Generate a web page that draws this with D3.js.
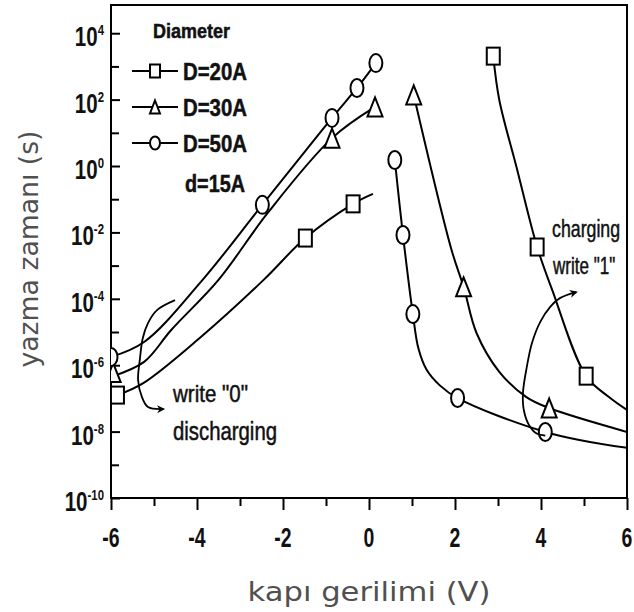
<!DOCTYPE html>
<html><head><meta charset="utf-8">
<script src="https://cdn.jsdelivr.net/npm/d3@7"></script>
<style>body{margin:0;background:#fff}</style>
</head><body>
<svg id="c" width="634" height="612"></svg>
<script>
// ---------- data (voltage V, log10 of write time in s) ----------
const xMajor = [-6, -4, -2, 0, 2, 4, 6];
const xMinor = [-5, -3, -1, 1, 3, 5];
const yMajorExp = [-10, -8, -6, -4, -2, 0, 2, 4];
const yMinorExp = [-9, -7, -5, -3, -1, 1, 3];
const seriesNames = ["D=20A", "D=30A", "D=50A"];
const seriesShapes = ["square", "triangle", "circle"];

// curves, write "0" (discharging) branch
const d20Discharge = [[-5.85,-6.90],[-5.25,-6.54],[-3.91,-5.15],[-2.45,-3.43],[-1.48,-2.17],[-0.37,-1.14],[0.09,-0.84]];
const d30Discharge = [[-6.0,-6.35],[-5.23,-5.90],[-4.60,-4.94],[-3.50,-3.43],[-2.36,-1.42],[-0.86,0.84],[0.14,1.78]];
const d50Discharge = [[-6.0,-5.75],[-5.23,-5.30],[-3.91,-3.49],[-2.48,-1.17],[-0.86,1.45],[-0.28,2.35],[0.16,3.10]];
// curves, write "1" (charging) branch
const d20Charge = [[2.89,3.31],[3.03,1.99],[3.43,-0.03],[3.91,-2.44],[4.26,-3.73],[5.05,-6.33],[5.58,-6.96],[6.0,-7.35]];
const d30Charge = [[1.04,2.14],[1.92,-2.53],[2.20,-3.64],[2.50,-5.03],[3.03,-6.20],[3.66,-6.96],[4.19,-7.29],[6.0,-8.01]];
const d50Charge = [[0.60,0.18],[0.79,-2.08],[1.02,-4.46],[1.15,-5.50],[1.34,-6.14],[1.64,-6.60],[2.06,-6.99],[4.10,-8.01],[6.0,-8.49]];

// markers
const d20Markers = [[-5.85,-6.90],[-1.48,-2.17],[-0.37,-1.14],[2.89,3.31],[3.91,-2.44],[5.05,-6.33]];
const d30Markers = [[-5.95,-6.22],[-0.86,0.84],[0.14,1.78],[1.04,2.14],[2.20,-3.64],[4.19,-7.29]];
const d50Markers = [[-6.0,-5.75],[-2.48,-1.17],[-0.86,1.45],[-0.28,2.35],[0.16,3.10],[0.60,0.18],[0.79,-2.08],[1.02,-4.46],[2.06,-6.99],[4.10,-8.01]];

// annotation arrows
const arrowWrite0 = [[-4.51,-4.04],[-4.93,-4.34],[-5.14,-4.73],[-5.26,-5.18],[-5.33,-5.84],[-5.37,-6.45],[-5.28,-6.96],[-5.14,-7.26],[-4.78,-7.32]];
const arrowWrite1 = [[4.10,-8.12],[3.90,-8.06],[3.72,-7.80],[3.60,-7.35],[3.58,-6.84],[3.67,-6.05],[3.79,-5.33],[3.98,-4.70],[4.21,-4.25],[4.44,-3.98],[4.82,-3.80]];

// ---------- drawing ----------
const svg = d3.select("#c");
const L = 111, R = 627, T = 5, B = 498;
const x = d3.scaleLinear().domain([-6, 6]).range([L, R]);
const y = d3.scaleLog().domain([1e-10, Math.pow(10, 4.85)]).range([B, T]);
const P = d => [x(d[0]), y(Math.pow(10, d[1]))];

const defs = svg.append("defs");
defs.append("clipPath").attr("id", "clip").append("rect")
  .attr("x", L).attr("y", T).attr("width", R - L).attr("height", B - T);
defs.append("marker").attr("id", "ah").attr("viewBox", "0 0 10 10")
  .attr("refX", 8).attr("refY", 5).attr("markerWidth", 11).attr("markerHeight", 8)
  .attr("markerUnits", "userSpaceOnUse").attr("orient", "auto")
  .append("path").attr("d", "M0,0L10,5L0,10L3,5z").attr("fill", "#000");

const scanFont = "'Liberation Sans', Arial, sans-serif";

// axes
const gx = svg.append("g").attr("transform", `translate(0,${B})`);
gx.call(d3.axisBottom(x).tickValues(xMajor).tickSize(12).tickFormat(""));
gx.append("g").call(d3.axisBottom(x).tickValues(xMinor).tickSize(8).tickFormat(""));
gx.selectAll(".domain").remove();
gx.selectAll("line").attr("stroke", "#000").attr("stroke-width", 2);

const gy = svg.append("g").attr("transform", `translate(${L},0)`);
gy.call(d3.axisLeft(y).tickValues(yMajorExp.map(e => Math.pow(10, e))).tickSize(-9).tickFormat(""));
gy.append("g").call(d3.axisLeft(y).tickValues(yMinorExp.map(e => Math.pow(10, e))).tickSize(-8).tickFormat(""));
gy.selectAll(".domain").remove();
gy.selectAll("line").attr("stroke", "#000").attr("stroke-width", 2);

// frame
svg.append("rect").attr("x", L).attr("y", T).attr("width", R - L).attr("height", B - T)
  .attr("fill", "none").attr("stroke", "#000").attr("stroke-width", 2);

// x tick labels
xMajor.forEach(v => {
  svg.append("g").attr("transform", `translate(${x(v)},547) scale(0.72,1)`)
    .append("text").attr("text-anchor", "middle")
    .attr("font-family", scanFont).attr("font-weight", "bold").attr("font-size", 27)
    .attr("fill", "#111").text(v);
});
// y tick labels
yMajorExp.forEach(e => {
  const t = svg.append("g").attr("transform", `translate(104,${y(Math.pow(10, e)) + 13}) scale(0.76,1)`)
    .append("text").attr("text-anchor", "end")
    .attr("font-family", scanFont).attr("font-weight", "bold").attr("font-size", 27).attr("fill", "#111");
  t.append("tspan").text("10");
  t.append("tspan").attr("font-size", 15).attr("dy", -11).text(e);
});

// curves
const line = d3.line().x(d => P(d)[0]).y(d => P(d)[1]).curve(d3.curveCatmullRom.alpha(0.5));
const plot = svg.append("g").attr("clip-path", "url(#clip)");
[d20Discharge, d30Discharge, d50Discharge, d20Charge, d30Charge, d50Charge].forEach(c => {
  plot.append("path").attr("d", line(c)).attr("fill", "none").attr("stroke", "#000").attr("stroke-width", 2);
});

// markers
function drawMarker(g, shape, cx, cy, w, h) {
  if (shape === "square") {
    g.append("rect").attr("x", cx - w / 2).attr("y", cy - h / 2).attr("width", w).attr("height", h);
  } else if (shape === "triangle") {
    g.append("path").attr("d", `M${cx},${cy - h / 2}L${cx + w / 2},${cy + h / 2}L${cx - w / 2},${cy + h / 2}Z`);
  } else {
    g.append("ellipse").attr("cx", cx).attr("cy", cy).attr("rx", w / 2).attr("ry", h / 2);
  }
}
const mk = plot.append("g").attr("fill", "#fff").attr("stroke", "#000").attr("stroke-width", 2);
const sizes = { square: [13, 17], triangle: [15, 19], circle: [13, 18] };
[d20Markers, d30Markers, d50Markers].forEach((arr, i) => {
  const s = seriesShapes[i];
  arr.forEach(d => { const p = P(d); drawMarker(mk, s, p[0], p[1], sizes[s][0], sizes[s][1]); });
});

// annotation arrows
const arrowLine = d3.line().x(d => P(d)[0]).y(d => P(d)[1]).curve(d3.curveCatmullRom.alpha(0.5));
[arrowWrite0, arrowWrite1].forEach(a => {
  svg.append("path").attr("d", arrowLine(a)).attr("fill", "none").attr("stroke", "#000")
    .attr("stroke-width", 1.8).attr("marker-end", "url(#ah)");
});

// annotation texts
function scanText(txt, tx, ty, size, len, weight) {
  svg.append("text").attr("x", tx).attr("y", ty)
    .attr("font-family", scanFont).attr("font-weight", weight || "normal").attr("font-size", size)
    .attr("textLength", len).attr("lengthAdjust", "spacingAndGlyphs")
    .attr("fill", "#111").attr("stroke", "#111").attr("stroke-width", 0.5).text(txt);
}
function scaledText(txt, tx, ty, size, sx) {
  svg.append("g").attr("transform", `translate(${tx},${ty}) scale(${sx},1)`)
    .append("text").attr("font-family", scanFont).attr("font-size", size)
    .attr("fill", "#111").attr("stroke", "#111").attr("stroke-width", 0.5).text(txt);
}
scanText('write "0"', 173, 402, 24, 75);
scanText("discharging", 173, 440, 25, 104);
scaledText("charging", 552, 237, 24, 0.74);
scaledText('write "1"', 553, 274, 23, 0.74);

// legend
scanText("Diameter", 153, 38, 20, 77, "bold");
const legendY = [71, 107, 143];
const lg = svg.append("g");
seriesNames.forEach((n, i) => {
  const ly = legendY[i];
  lg.append("line").attr("x1", 132).attr("x2", 178).attr("y1", ly).attr("y2", ly)
    .attr("stroke", "#000").attr("stroke-width", 2);
  const g = lg.append("g").attr("fill", "#fff").attr("stroke", "#000").attr("stroke-width", 2);
  drawMarker(g, seriesShapes[i], 155, ly, 10, 13);
  scanText(n, 183, ly + 9, 24, 64, "bold");
});
scanText("d=15A", 185, 192, 24, 60, "bold");

// axis titles
svg.append("text").attr("transform", "translate(38,249) rotate(-90)")
  .attr("text-anchor", "middle").attr("font-family", "'DejaVu Sans', Verdana, sans-serif")
  .attr("font-size", 26).attr("fill", "#505050")
  .attr("textLength", 237).attr("lengthAdjust", "spacingAndGlyphs")
  .text("yazma zamanı (s)");
svg.append("text").attr("x", 369).attr("y", 601)
  .attr("text-anchor", "middle").attr("font-family", "'DejaVu Sans', Verdana, sans-serif")
  .attr("font-size", 26).attr("fill", "#505050")
  .attr("textLength", 243).attr("lengthAdjust", "spacingAndGlyphs")
  .text("kapı gerilimi (V)");
</script>
</body></html>
